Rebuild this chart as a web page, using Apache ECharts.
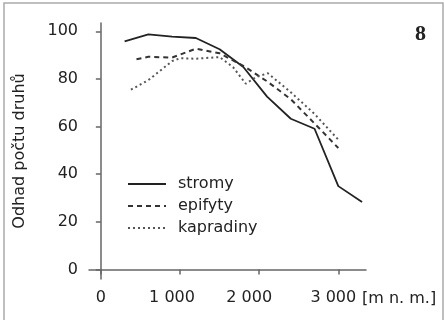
<!DOCTYPE html>
<html>
<head>
<meta charset="utf-8">
<script src="https://cdn.jsdelivr.net/npm/echarts@6/dist/echarts.min.js"></script>
<style>html,body{margin:0;padding:0;background:#fff}#c{width:444px;height:320px}</style>
</head>
<body>
<div id="c"></div>
<script>
var xTicks = [0, 1000, 2000, 3000];
var xTickLabels = ['0', '1 000', '2 000', '3 000'];
var yTicks = [0, 20, 40, 60, 80, 100];
var seriesNames = ['stromy', 'epifyty', 'kapradiny'];
var stromyX = [300, 600, 900, 1200, 1500, 1800, 2100, 2400, 2700, 3000, 3300];
var stromyY = [95.8, 98.7, 97.8, 97.2, 92.5, 85, 72.6, 63.3, 59.1, 35, 28.3];
var epifytyX = [450, 600, 900, 1200, 1500, 1800, 2100, 2400, 2700, 3000];
var epifytyY = [88.3, 89.3, 89, 92.7, 90.8, 85.5, 79, 71.5, 61.3, 51];
var kapradinyX = [380, 600, 900, 1000, 1200, 1500, 1670, 1830, 1960, 2110, 2400, 2700, 3000];
var kapradinyY = [75.5, 79.5, 87.5, 88.7, 88.5, 89.2, 85, 78, 80.8, 82.4, 74.4, 65.3, 54.5];

function pairs(xs, ys) { return xs.map(function (x, i) { return [x, ys[i]]; }); }
var FONT = 'DejaVu Sans';
var labelStyle = function (shift) { return {color: '#222', fontFamily: FONT, fontSize: 16, padding: [0, shift, 0, 0]}; };
var chart = echarts.init(document.getElementById('c'), null, {renderer: 'canvas'});
chart.setOption({
  animation: false,
  grid: {left: 89, right: 78, top: 23, bottom: 41, containLabel: false},
  xAxis: {
    type: 'value', min: -150, max: 3350,
    splitLine: {show: false},
    axisLine: {lineStyle: {color: '#666', width: 1.5}},
    axisTick: {customValues: xTicks, length: 5, lineStyle: {color: '#666', width: 1.5}},
    axisLabel: {customValues: xTicks, margin: 11, color: '#222', fontFamily: FONT, fontSize: 16,
      formatter: function (v) {
        var i = xTicks.indexOf(v);
        return '{s' + i + '|' + xTickLabels[i] + '}';
      },
      rich: {s0: labelStyle(0), s1: labelStyle(16), s2: labelStyle(20), s3: labelStyle(10)}}
  },
  yAxis: {
    type: 'value', min: -4, max: 103.5,
    name: 'Odhad počtu druhů', nameLocation: 'middle', nameGap: 61,
    nameTextStyle: {color: '#222', fontFamily: FONT, fontSize: 16},
    splitLine: {show: false},
    axisLine: {show: true, lineStyle: {color: '#666', width: 1.5}},
    axisTick: {show: true, customValues: yTicks, length: 5, lineStyle: {color: '#666', width: 1.5}},
    axisLabel: {customValues: yTicks, margin: 11, color: '#222', fontFamily: FONT, fontSize: 16}
  },
  legend: {
    orient: 'vertical', left: 122, top: 171, itemWidth: 38, itemHeight: 14, itemGap: 6,
    itemStyle: {opacity: 0},
    textStyle: {color: '#222', fontFamily: FONT, fontSize: 16, padding: [0, 0, 0, 7]},
    data: seriesNames
  },
  series: [
    {name: seriesNames[0], type: 'line', symbol: 'none', data: pairs(stromyX, stromyY),
      lineStyle: {color: '#222', width: 1.8, type: 'solid'}, itemStyle: {color: '#222'}},
    {name: seriesNames[1], type: 'line', symbol: 'none', data: pairs(epifytyX, epifytyY),
      lineStyle: {color: '#333', width: 2, type: [5, 4]}, itemStyle: {color: '#333'}},
    {name: seriesNames[2], type: 'line', symbol: 'none', data: pairs(kapradinyX, kapradinyY),
      lineStyle: {color: '#555', width: 2, type: [2, 3]}, itemStyle: {color: '#555'}}
  ],
  graphic: [
    {type: 'rect', shape: {x: 4, y: 3, width: 439, height: 340}, style: {fill: 'none', stroke: '#aaa', lineWidth: 1.5}, silent: true},
    {type: 'text', x: 420.5, y: 34.5, style: {text: '8', font: 'bold 22px "Liberation Serif"', fill: '#222', align: 'center', verticalAlign: 'middle'}},
    {type: 'text', x: 362, y: 299, style: {text: '[m n. m.]', font: '16px "DejaVu Sans"', fill: '#222', align: 'left', verticalAlign: 'middle'}}
  ]
});
</script>
</body>
</html>
